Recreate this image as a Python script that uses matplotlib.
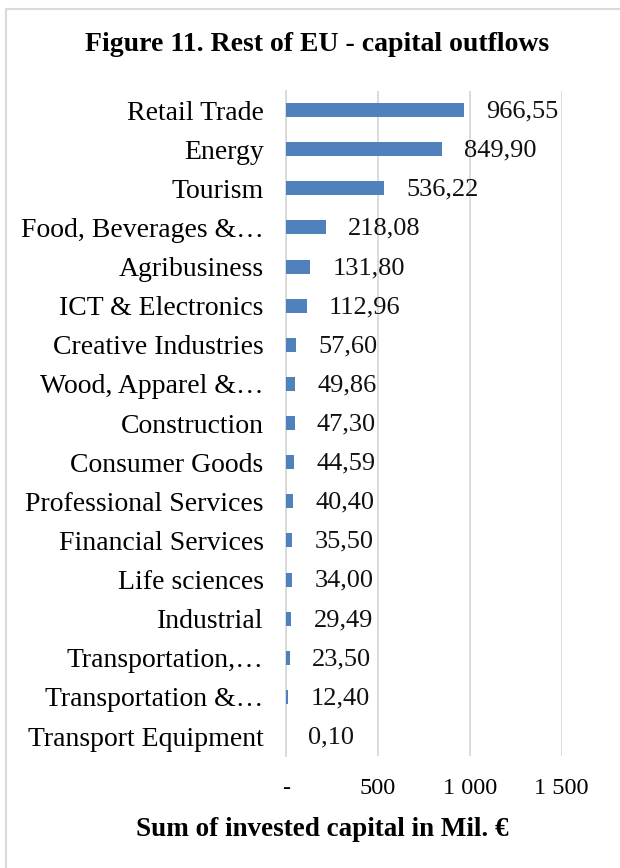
import matplotlib.pyplot as plt
from matplotlib.patches import Rectangle

categories = ["Retail Trade", "Energy", "Tourism", "Food, Beverages &\u2026",
              "Agribusiness", "ICT & Electronics", "Creative Industries",
              "Wood, Apparel &\u2026", "Construction", "Consumer Goods",
              "Professional Services", "Financial Services", "Life sciences",
              "Industrial", "Transportation,\u2026", "Transportation &\u2026",
              "Transport Equipment"]
values = [966.55, 849.90, 536.22, 218.08, 131.80, 112.96, 57.60, 49.86,
          47.30, 44.59, 40.40, 35.50, 34.00, 29.49, 23.50, 12.40, 0.10]
xticks = [0, 500, 1000, 1500]
xtick_labels = ["-", "500", "1 000", "1 500"]

plt.rcParams['font.family'] = ['Liberation Serif', 'DejaVu Serif']

fig = plt.figure(figsize=(6.2, 8.68), dpi=100)
ax = fig.add_axes([0.461, 0.1295, 0.445, 0.7662])

y = list(range(len(categories)))[::-1]
ax.barh(y, values, height=0.36, color="#4f81bd", zorder=3)

for yi, v in zip(y, values):
    lab = f"{v:,.2f}".replace(",", " ").replace(".", ",")
    ax.annotate(lab, (v, yi), xytext=(16, -1), textcoords="offset points",
                va="center", ha="left", fontsize=19, color="#111111")

ax.set_yticks(y)
ax.set_yticklabels(categories, fontsize=20)
ax.set_xticks(xticks)
ax.set_xticklabels(xtick_labels, fontsize=17.5)
ax.set_xlim(0, 1500)
ax.set_ylim(-0.5, len(categories) - 0.5)

ax.grid(axis="x", color="#d9d9d9", linewidth=1.3, zorder=0)
for s in ["top", "right", "bottom"]:
    ax.spines[s].set_visible(False)
ax.spines["left"].set_color("#d9d9d9")
ax.spines["left"].set_linewidth(1.3)
ax.tick_params(axis="both", length=0)
ax.tick_params(axis="y", pad=16)
ax.tick_params(axis="x", pad=16)

fig.text(0.511, 0.949, "Figure 11. Rest of EU - capital outflows", ha="center",
         va="center", fontsize=20, fontweight="bold")
fig.text(0.52, 0.044, "Sum of invested capital in Mil. \u20ac", ha="center",
         va="center", fontsize=19.5, fontweight="bold")

fig.patches.append(Rectangle((0.009, -0.05), 1.2, 1.04, transform=fig.transFigure,
                             fill=False, edgecolor="#d9d9d9", linewidth=1.5))

plt.savefig("out.png", dpi=100)
